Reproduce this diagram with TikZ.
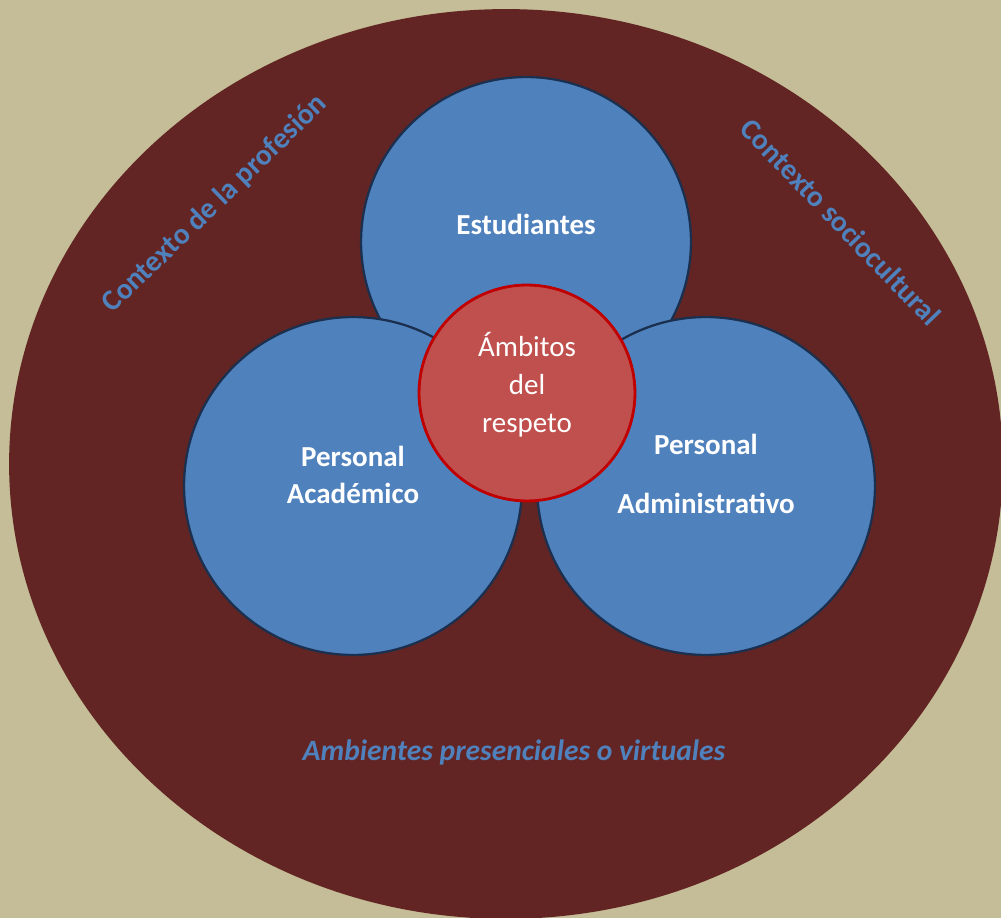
\documentclass[tikz,border=0pt]{standalone}
\usepackage{fontspec}
\setmainfont{Carlito}
\usetikzlibrary{shapes.geometric}
\definecolor{fondo}{HTML}{C4BD97}
\definecolor{vino}{HTML}{632523}
\definecolor{azul}{HTML}{4F81BD}
\definecolor{azulborde}{HTML}{1B2F4E}
\definecolor{rojo}{HTML}{C0504D}
\definecolor{rojoborde}{HTML}{C00000}

\begin{document}
\begin{tikzpicture}[x=0.02cm,y=-0.02cm,
    grupo/.style={circle,fill=azul,draw=azulborde,line width=1.3pt,inner sep=0pt},
    ambito/.style={circle,fill=rojo,draw=rojoborde,line width=1.6pt,inner sep=0pt,minimum size=4.32cm},
    etiqueta/.style={text=white,font=\bfseries\fontsize{16.5}{21.5}\selectfont,align=center},
    contexto/.style={text=azul,font=\bfseries\fontsize{16.8}{20}\selectfont}]
\fill[fondo] (0,0) rectangle (1001,918);
\useasboundingbox (0,0) rectangle (1001,918);
% entorno
\node[ellipse,fill=vino,inner sep=0pt,minimum width=19.88cm,minimum height=18.2cm] (entorno) at (506,464) {};
% grupos
\node[grupo,minimum size=6.6cm] (est) at (526,242) {};
\node[grupo,minimum size=6.76cm] (acad) at (353,486) {};
\node[grupo,minimum size=6.76cm] (admin) at (706,486) {};
\node[ambito] (resp) at (527,393) {};
% textos
\node[etiqueta] (estTxt) at (526,224) {Estudiantes};
\node[etiqueta] (acadTxt) at (353,475) {Personal\\Académico};
\node[etiqueta] (adminTxt) at (706,474) {Personal\\[12.5pt]Administrativo};
\node[etiqueta,font=\fontsize{16.5}{21.5}\selectfont] (respTxt) at (527,385) {Ámbitos\\del\\respeto};
\node[contexto,rotate=44] (profTxt) at (215,204) {Contexto de la profesión};
\node[contexto,rotate=-46] (socTxt) at (841,222) {Contexto sociocultural};
\node[contexto,font=\bfseries\itshape\fontsize{16.8}{20}\selectfont] (ambTxt) at (514,752) {Ambientes presenciales o virtuales};
\end{tikzpicture}
\end{document}
